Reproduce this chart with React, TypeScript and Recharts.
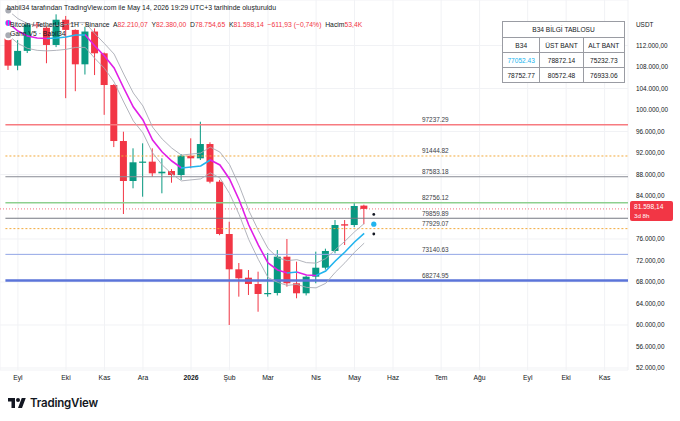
import React from "react";
import { Bar, CartesianGrid, ComposedChart, Line, ReferenceLine, Scatter, XAxis, YAxis } from "recharts";

// weekly candles, index 0 = week of 25 Aug 2025
const opens = [113500, 108250, 111000, 115900, 115300, 112100, 116800, 114900, 108500, 114600, 110550, 104650, 94230, 86790, 90270, 90390, 88220, 88650, 87900, 91500, 91010, 93670, 86660, 76930, 70360, 68800, 67630, 65770, 65950, 72710, 67760, 65900, 68990, 70660, 73770, 78750, 78600, 82210.07];
const highs = [113700, 113000, 116200, 116300, 115600, 117800, 117500, 115000, 115500, 115200, 110700, 104800, 95960, 92870, 93800, 92870, 91010, 89000, 91800, 94730, 97820, 94000, 87000, 79210, 71530, 70230, 69920, 73400, 73950, 76000, 71780, 69200, 73640, 74200, 79530, 79530, 82750, 82380];
const lows = [107450, 107400, 110600, 115200, 108700, 111700, 102200, 103500, 106600, 106500, 99100, 93100, 80650, 85430, 83870, 87590, 84500, 86470, 86980, 89150, 90700, 86360, 76700, 60000, 65270, 65580, 62470, 65270, 65500, 67130, 64970, 65500, 67760, 70300, 73340, 74880, 78200, 78754.65];
const closes = [108250, 111000, 115900, 115600, 112100, 116800, 114900, 108500, 114600, 110550, 104650, 94230, 86790, 90270, 90400, 88220, 88520, 87900, 91500, 91010, 93670, 86660, 76930, 70360, 68690, 67630, 65770, 65950, 72710, 67760, 65900, 68990, 70660, 73770, 78600, 78490, 82140, 81598.14];

// B34 centre line and its bands
const mids = [116190, 114700, 113770, 113400, 113300, 113400, 113580, 113950, 113950, 111900, 110050, 107810, 104090, 100560, 98140, 94420, 92190, 90510, 89210, 89400, 89580, 90700, 89770, 87160, 83260, 78600, 74880, 71540, 70230, 69670, 69860, 69300, 69210, 70050, 71910, 73580, 75440, 77052.43];
const uppers = [118490, 117000, 116070, 115700, 115600, 115700, 115880, 116250, 116250, 114200, 112350, 110410, 106690, 103160, 100740, 96820, 94590, 92910, 91610, 91800, 91980, 93100, 92170, 89860, 85960, 81300, 77580, 74240, 72530, 71970, 72160, 71600, 71510, 72350, 74010, 75580, 77340, 78872.14];
const lowers = [113890, 112400, 111470, 111100, 111000, 111100, 111280, 111650, 111650, 109600, 107750, 105210, 101490, 97960, 95740, 92020, 89790, 88110, 86810, 87000, 87180, 88300, 87370, 84460, 80560, 75900, 72180, 68840, 67930, 67370, 67560, 67000, 66910, 67750, 69810, 71580, 73540, 75232.73];

// projection for next week
const projMid = 78752.77;
const projUpper = 80572.48;
const projLower = 76933.06;

const monthTicks = [1, 6, 10, 14, 19, 23, 27, 32, 36, 40, 45, 49, 54, 58, 62];
const monthLabels = ["Eyl", "Eki", "Kas", "Ara", "2026", "Şub", "Mar", "Nis", "May", "Haz", "Tem", "Ağu", "Eyl", "Eki", "Kas"];
// 80.000 sits under the last-price tag, so it is not shown
const priceTicks = [52000, 56000, 60000, 64000, 68000, 72000, 76000, 84000, 88000, 92000, 96000, 100000, 104000, 108000, 112000];

const levels = [97237.29, 91444.82, 87583.18, 82756.12, 79859.89, 77929.07, 73140.63, 68274.95];
const levelColors = ["#f77b80", "#f2a93b", "#8a8d95", "#8dd08f", "#777a82", "#f2a93b", "#93a6e6", "#5b74d9"];
const levelWidths = [1.5, 1, 1, 1.5, 1, 1, 1, 2.5];
const levelDash = ["", "2 2", "", "", "", "2 2", "", ""];

const lastPrice = 81598.14;

const UP = "#089981";
const DOWN = "#f23645";
const MAGENTA = "#e01ee6";
const CYAN = "#22b4ee";
const X_DOMAIN: [number, number] = [-0.863, 64.43];
const Y_DOMAIN: [number, number] = [51627, 120466];

const data = opens.map((o, i) => ({
  i,
  o,
  h: highs[i],
  l: lows[i],
  c: closes[i],
  range: [lows[i], highs[i]],
  mid: mids[i],
  upper: uppers[i],
  lower: lowers[i],
}));

const projDots = [
  { i: 38, v: projUpper, kind: "band" },
  { i: 38, v: projMid, kind: "mid" },
  { i: 38, v: projLower, kind: "band" },
];

const levelLabels = levels.map((v) => ({ i: 44.4, v }));

function trNum(v: number) {
  const [int, dec] = v.toFixed(2).split(".");
  return int.replace(/\B(?=(\d{3})+(?!\d))/g, ".") + "," + dec;
}

function Candle(props: any) {
  let { x, y, width, height } = props;
  const { o, c, h, l } = props.payload;
  if (height < 0) {
    y += height;
    height = -height;
  }
  const color = c >= o ? UP : DOWN;
  const span = h - l || 1;
  const py = (v: number) => y + ((h - v) / span) * height;
  const top = py(Math.max(o, c));
  const bot = py(Math.min(o, c));
  const cx = x + width / 2;
  return (
    <g>
      <line x1={cx} x2={cx} y1={y} y2={y + height} stroke={color} strokeWidth={1} />
      <rect x={x} y={top} width={width} height={Math.max(bot - top, 1.2)} fill={color} />
    </g>
  );
}

function MonthTick(props: any) {
  const { x, y, payload } = props;
  const label = monthLabels[monthTicks.indexOf(payload.value)];
  return (
    <text x={x} y={y} dy={8} textAnchor="middle" fontSize={6.8} fill="#131722" fontWeight={label === "2026" ? 700 : 400}>
      {label}
    </text>
  );
}

function PriceTag(props: any) {
  const vb = props.viewBox;
  const x = vb.x + vb.width + 2;
  const y = vb.y;
  return (
    <g>
      <rect x={x} y={y - 8} width={43} height={20} rx={2} fill={DOWN} />
      <text x={x + 4} y={y} fill="#fff" fontSize={6.6}>
        {trNum(lastPrice)}
      </text>
      <text x={x + 4} y={y + 9} fill="#fff" fontSize={6.2}>
        3d 8h
      </text>
    </g>
  );
}

function ProjDot(props: any) {
  const { cx, cy, payload } = props;
  return payload.kind === "mid" ? <circle cx={cx} cy={cy} r={2.6} fill={CYAN} /> : <circle cx={cx} cy={cy} r={1.4} fill="#131722" />;
}

function LevelText(props: any) {
  const { cx, cy, payload } = props;
  return (
    <text x={cx} y={cy - 2.5} textAnchor="middle" fontSize={6.4} fill="#3a3d45">
      {payload.v.toFixed(2)}
    </text>
  );
}

// colour each centre-line segment by its direction
const segColors = mids.slice(1).map((m, k) => (m >= mids[k] ? CYAN : MAGENTA));

const cell: React.CSSProperties = { border: "1px solid #9a9ca3", padding: "0 2px", height: 14, textAlign: "center" };

export default function App() {
  const n = mids.length - 1;
  return (
    <div
      style={{
        position: "absolute",
        left: 0,
        top: 0,
        width: 680,
        height: 421,
        background: "#fff",
        overflow: "hidden",
        fontFamily: "'Liberation Sans', Arial, sans-serif",
        color: "#131722",
      }}
    >
      <ComposedChart width={680} height={390} data={data} margin={{ top: 0, right: 0, bottom: 0, left: 0 }}>
        <defs>
          <linearGradient id="midGrad" x1="0" y1="0" x2="1" y2="0">
            {segColors.flatMap((col, k) => [
              <stop key={`a${k}`} offset={k / n} stopColor={col} />,
              <stop key={`b${k}`} offset={(k + 1) / n} stopColor={col} />,
            ])}
          </linearGradient>
        </defs>
        <CartesianGrid stroke="#f1f2f5" />
        <XAxis
          dataKey="i"
          type="number"
          domain={X_DOMAIN}
          ticks={monthTicks}
          allowDataOverflow
          height={20}
          axisLine={false}
          tickLine={false}
          tickSize={0}
          tickMargin={2}
          tick={<MonthTick />}
        />
        <YAxis
          orientation="right"
          type="number"
          domain={Y_DOMAIN}
          ticks={priceTicks}
          allowDataOverflow
          width={52}
          axisLine={false}
          tickLine={false}
          tickSize={0}
          tickMargin={8}
          tick={{ fontSize: 6.4, fill: "#131722" }}
          tickFormatter={(v: number) => trNum(v)}
        />
        {levels.map((v, k) => (
          <ReferenceLine
            key={v}
            segment={[
              { x: -0.3, y: v },
              { x: X_DOMAIN[1], y: v },
            ]}
            stroke={levelColors[k]}
            strokeWidth={levelWidths[k]}
            strokeDasharray={levelDash[k] || undefined}
          />
        ))}
        <ReferenceLine y={lastPrice} stroke={DOWN} strokeOpacity={0.7} strokeDasharray="1 2" label={<PriceTag />} />
        <Bar dataKey="range" barSize={7} shape={<Candle />} isAnimationActive={false} />
        <Line dataKey="upper" stroke="#a9acb4" strokeWidth={0.9} dot={false} isAnimationActive={false} />
        <Line dataKey="lower" stroke="#a9acb4" strokeWidth={0.9} dot={false} isAnimationActive={false} />
        <Line dataKey="mid" stroke="url(#midGrad)" strokeWidth={1.6} dot={false} isAnimationActive={false} />
        <Scatter data={projDots} dataKey="v" shape={<ProjDot />} isAnimationActive={false} />
        <Scatter data={levelLabels} dataKey="v" shape={<LevelText />} isAnimationActive={false} />
      </ComposedChart>

      <div style={{ position: "absolute", left: 7, top: 4, fontSize: 6.9, whiteSpace: "nowrap" }}>
        babil34 tarafından TradingView.com ile May 14, 2026 19:29 UTC+3 tarihinde oluşturuldu
      </div>
      <div style={{ position: "absolute", left: 10, top: 21, fontSize: 6.8, whiteSpace: "nowrap" }}>
        Bitcoin / TetherUS · 1H · Binance&nbsp; A<span style={{ color: DOWN }}>82.210,07</span>&nbsp; Y
        <span style={{ color: DOWN }}>82.380,00</span>&nbsp; D<span style={{ color: DOWN }}>78.754,65</span>&nbsp; K
        <span style={{ color: DOWN }}>81.598,14</span>&nbsp; <span style={{ color: DOWN }}>−611,93 (−0,74%)</span>&nbsp; Hacim
        <span style={{ color: DOWN }}>53,4K</span>
      </div>
      <div style={{ position: "absolute", left: 10, top: 30, fontSize: 6.8, whiteSpace: "nowrap" }}>Gann V5 · Babil34</div>

      <div style={{ position: "absolute", left: 636, top: 21, fontSize: 6.4 }}>USDT</div>

      <table
        style={{
          position: "absolute",
          left: 502,
          top: 21,
          width: 123,
          borderCollapse: "collapse",
          fontSize: 6.6,
          background: "#fff",
          color: "#131722",
        }}
      >
        <tbody>
          <tr>
            <td colSpan={3} style={{ ...cell, height: 15 }}>
              B34 BİLGİ TABLOSU
            </td>
          </tr>
          <tr>
            <td style={cell}>B34</td>
            <td style={cell}>ÜST BANT</td>
            <td style={cell}>ALT BANT</td>
          </tr>
          <tr>
            <td style={{ ...cell, color: CYAN }}>{mids[n].toFixed(2)}</td>
            <td style={cell}>{uppers[n].toFixed(2)}</td>
            <td style={cell}>{lowers[n].toFixed(2)}</td>
          </tr>
          <tr>
            <td style={cell}>{projMid.toFixed(2)}</td>
            <td style={cell}>{projUpper.toFixed(2)}</td>
            <td style={cell}>{projLower.toFixed(2)}</td>
          </tr>
        </tbody>
      </table>

      <div style={{ position: "absolute", left: 8, top: 396, display: "flex", alignItems: "center", gap: 4 }}>
        <svg width={18} height={12} viewBox="0 0 36 24">
          <path d="M14 22H7V9H0V2h14v20z M28 22h-8l7.5-20h8L28 22z" fill="#131722" />
          <circle cx={20} cy={6} r={4} fill="#131722" />
        </svg>
        <span style={{ fontFamily: "Inter, sans-serif", fontWeight: 600, fontSize: 11.5, letterSpacing: -0.2 }}>TradingView</span>
      </div>
    </div>
  );
}
